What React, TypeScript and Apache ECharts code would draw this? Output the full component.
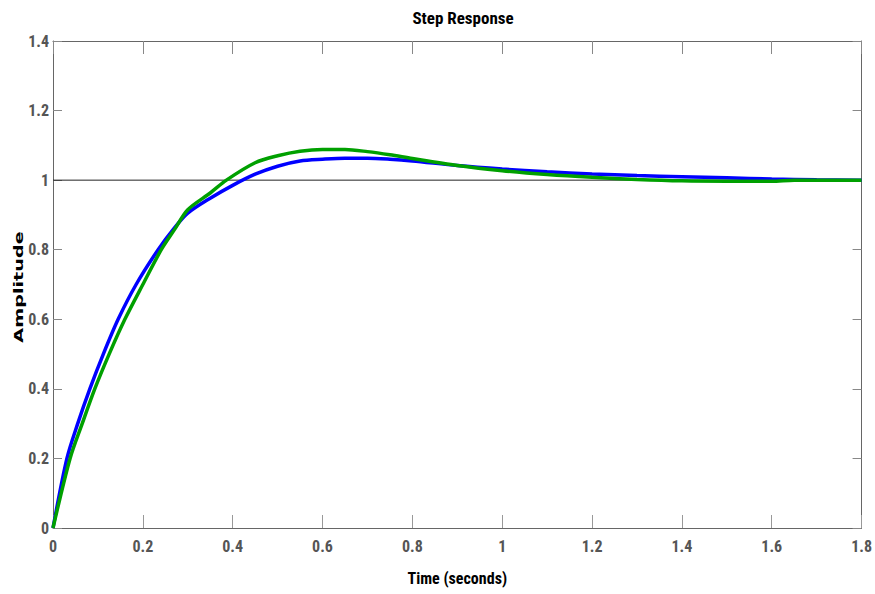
import React, { useEffect, useRef } from "react";
import * as echarts from "echarts";

const titleText = "Step Response";
const xName = "Time (seconds)";
const yName = "Amplitude";

const xTicks = ["0", "0.2", "0.4", "0.6", "0.8", "1", "1.2", "1.4", "1.6", "1.8"];
const yTicks = ["0", "0.2", "0.4", "0.6", "0.8", "1", "1.2", "1.4"];

const blueT = [0, 0.031, 0.055, 0.082, 0.112, 0.145, 0.185, 0.234, 0.27, 0.3, 0.35, 0.4, 0.45, 0.5, 0.55, 0.6, 0.65, 0.7, 0.75, 0.8, 0.9, 1.0, 1.1, 1.2, 1.3, 1.4, 1.5, 1.6, 1.7, 1.8];
const blueY = [0, 0.2, 0.3, 0.4, 0.5, 0.6, 0.7, 0.8, 0.862, 0.905, 0.948, 0.985, 1.017, 1.04, 1.055, 1.06, 1.063, 1.063, 1.06, 1.055, 1.042, 1.032, 1.024, 1.018, 1.013, 1.01, 1.007, 1.003, 1.001, 1.0];

const greenT = [0, 0.038, 0.065, 0.093, 0.125, 0.16, 0.2, 0.241, 0.27, 0.3, 0.35, 0.386, 0.45, 0.5, 0.55, 0.6, 0.65, 0.7, 0.75, 0.8, 0.9, 1.0, 1.1, 1.2, 1.3, 1.4, 1.5, 1.6, 1.65, 1.8];
const greenY = [0, 0.2, 0.3, 0.4, 0.5, 0.6, 0.7, 0.8, 0.857, 0.915, 0.963, 1.0, 1.05, 1.07, 1.083, 1.088, 1.088, 1.082, 1.073, 1.062, 1.042, 1.027, 1.016, 1.008, 1.002, 0.998, 0.997, 0.997, 1.0, 1.0];

const refT = [0, 1.8];
const refY = [1, 1];

const NARROW = '"Liberation Sans Narrow", "Arial Narrow", "Roboto Condensed", "Liberation Sans", sans-serif';

export default function App() {
  const ref = useRef<HTMLDivElement>(null);
  useEffect(() => {
    if (!ref.current) return;
    const chart = echarts.init(ref.current, null, { renderer: "svg" });
    const pairs = (t: number[], y: number[]) => t.map((v, i) => [v, y[i]]);
    const tickLabel = {
      color: "#555",
      fontFamily: NARROW,
      fontWeight: "bold" as const,
      fontSize: 16,
    };
    chart.setOption({
      animation: false,
      backgroundColor: "#fff",
      title: {
        text: titleText,
        left: 458,
        textAlign: "center",
        top: 4,
        textStyle: { fontFamily: NARROW, fontWeight: "bold", fontSize: 17, color: "#000" },
      },
      grid: { left: 53, right: 11, top: 41, bottom: 66 },
      xAxis: [
        {
          type: "value",
          min: 0,
          max: 1.8,
          interval: 0.2,
          position: "bottom",
          name: xName,
          nameLocation: "middle",
          nameGap: 42,
          nameTextStyle: { fontFamily: NARROW, fontWeight: "bold", fontSize: 16, color: "#000" },
          axisLine: { show: true, onZero: false, lineStyle: { color: "#666", width: 1 } },
          axisTick: { show: true, inside: true, length: 13, lineStyle: { color: "#999" } },
          axisLabel: {
            ...tickLabel,
            margin: 10,
            showMinLabel: true,
            showMaxLabel: true,
            formatter: (v: number) => xTicks[Math.round(v / 0.2)] ?? "",
          },
          splitLine: { show: false },
        },
        {
          type: "value",
          min: 0,
          max: 1.8,
          interval: 0.2,
          position: "top",
          axisLine: { show: true, onZero: false, lineStyle: { color: "#666", width: 1 } },
          axisTick: { show: true, inside: true, length: 13, lineStyle: { color: "#888" } },
          axisLabel: { show: false },
          splitLine: { show: false },
        },
      ],
      yAxis: [
        {
          type: "value",
          min: 0,
          max: 1.4,
          interval: 0.2,
          position: "left",
          axisLine: { show: true, onZero: false, lineStyle: { color: "#666", width: 1 } },
          axisTick: { show: true, inside: true, length: 9, lineStyle: { color: "#888" } },
          axisLabel: {
            ...tickLabel,
            margin: 4,
            showMinLabel: true,
            showMaxLabel: true,
            formatter: (v: number) => yTicks[Math.round(v / 0.2)] ?? "",
          },
          splitLine: { show: false },
        },
        {
          type: "value",
          min: 0,
          max: 1.4,
          interval: 0.2,
          position: "right",
          axisLine: { show: true, onZero: false, lineStyle: { color: "#666", width: 1 } },
          axisTick: { show: true, inside: true, length: 9, lineStyle: { color: "#888" } },
          axisLabel: { show: false },
          splitLine: { show: false },
        },
      ],
      graphic: [
        {
          type: "text",
          x: 19,
          y: 287,
          rotation: Math.PI / 2,
          scaleX: 1.6,
          style: {
            text: yName,
            font: 'bold 12px "DejaVu Sans", Verdana, sans-serif',
            fill: "#000",
            align: "center",
            verticalAlign: "middle",
          },
        },
      ],
      series: [
        {
          type: "line",
          data: pairs(refT, refY),
          symbol: "none",
          lineStyle: { color: "#222", width: 1 },
          silent: true,
        },
        {
          type: "line",
          data: pairs(blueT, blueY),
          symbol: "none",
          smooth: 0.3,
          lineStyle: { color: "#0000ff", width: 3.5 },
        },
        {
          type: "line",
          data: pairs(greenT, greenY),
          symbol: "none",
          smooth: 0.3,
          lineStyle: { color: "#00a000", width: 3.5 },
        },
      ],
    });
    return () => chart.dispose();
  }, []);
  return (
    <div
      ref={ref}
      style={{ position: "fixed", left: 0, top: 0, width: 875, height: 594 }}
    />
  );
}
